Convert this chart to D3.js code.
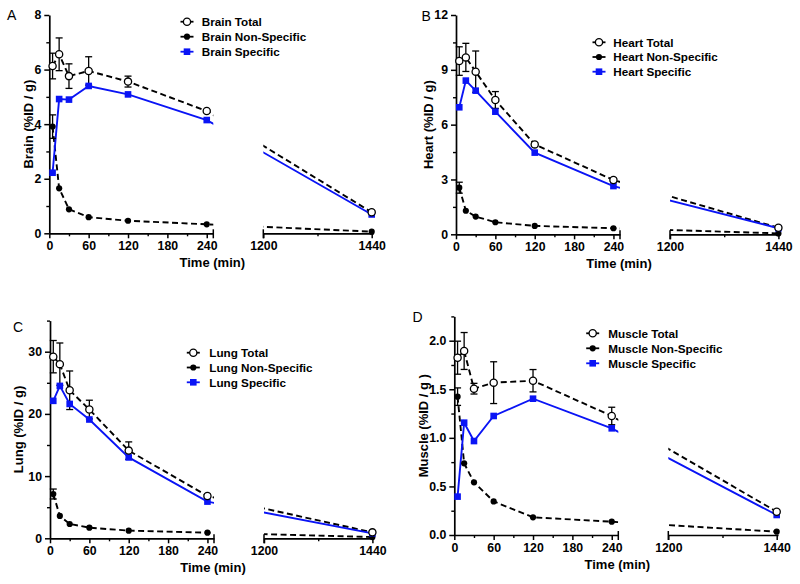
<!DOCTYPE html>
<html>
<head>
<meta charset="utf-8">
<script src="https://cdn.jsdelivr.net/npm/d3@7"></script>
<style>
body { margin: 0; background: #fff; }
svg { display: block; font-family: "Liberation Sans", Arial, sans-serif; }
</style>
</head>
<body>
<svg width="800" height="584"></svg>
<script>
// sampling times (min)
const times = [5, 15, 30, 60, 120, 240, 1440];

const brainTotal = [6.13, 6.56, 5.76, 5.95, 5.56, 4.48, 0.77];
const brainTotalErr = [0.47, 0.6, 0.45, 0.52, 0.2, 0.05, 0];
const brainNonSpec = [3.91, 1.65, 0.88, 0.59, 0.46, 0.33, 0.06];
const brainNonSpecErr = [0.43, 0, 0, 0, 0, 0, 0];
const brainSpec = [2.22, 4.92, 4.90, 5.40, 5.09, 4.15, 0.69];

const heartTotal = [9.48, 9.68, 8.90, 7.35, 4.92, 2.97, 0.36];
const heartTotalErr = [0.78, 0.77, 1.13, 0.46, 0.1, 0.1, 0];
const heartNonSpec = [2.55, 1.29, 0.97, 0.66, 0.46, 0.33, 0.05];
const heartNonSpecErr = [0.3, 0, 0, 0, 0, 0, 0];
const heartSpec = [6.95, 8.41, 7.86, 6.71, 4.47, 2.64, 0.33];

const lungTotal = [29.2, 28.0, 23.8, 20.7, 14.1, 6.8, 0.96];
const lungTotalErr = [2.6, 3.4, 3.1, 1.5, 1.4, 0.3, 0];
const lungNonSpec = [7.12, 3.59, 2.30, 1.71, 1.23, 0.91, 0.2];
const lungNonSpecErr = [0.8, 0, 0, 0, 0, 0, 0];
const lungSpec = [22.1, 24.5, 21.6, 19.1, 13.0, 5.9, 0.8];

const muscleTotal = [1.825, 1.894, 1.506, 1.568, 1.588, 1.225, 0.24];
const muscleTotalErr = [0.17, 0.19, 0.055, 0.215, 0.115, 0.09, 0];
const muscleNonSpec = [1.424, 0.738, 0.542, 0.346, 0.182, 0.137, 0.034];
const muscleNonSpecErr = [0.09, 0, 0, 0, 0, 0, 0];
const muscleSpec = [0.395, 1.156, 0.967, 1.225, 1.403, 1.098, 0.206];

// axis ticks
const xTicks1 = [0, 60, 120, 180, 240];
const xMinor1 = [30, 90, 150, 210];
const xTicks2 = [1200, 1440];
const xMinor2 = [1320];
const brainTicks = [0, 2, 4, 6, 8];
const brainMinor = [1, 3, 5, 7];
const heartTicks = [0, 3, 6, 9, 12];
const heartMinor = [1.5, 4.5, 7.5, 10.5];
const lungTicks = [0, 10, 20, 30];
const lungMinor = [5, 15, 25, 35];
const muscleTicks = [0, 0.5, 1.0, 1.5, 2.0];
const muscleMinor = [0.25, 0.75, 1.25, 1.75, 2.25];

const panels = [
	{ letter: 'A', organ: 'Brain', yLabel: 'Brain (%ID / g)', total: brainTotal, totalErr: brainTotalErr,
	  nonSpec: brainNonSpec, nonSpecErr: brainNonSpecErr, spec: brainSpec,
	  yMax: 8, yTicks: brainTicks, yMinor: brainMinor, fmt: 'd',
	  x0: 49.3, yTop: 15, yBottom: 233.3, titleDx: -21, letterX: 7, letterY: 19.5,
	  legX: 187, legY: 21.7, legTextX: 201.7, legStep: 15 },
	{ letter: 'B', organ: 'Heart', yLabel: 'Heart (%ID / g)', total: heartTotal, totalErr: heartTotalErr,
	  nonSpec: heartNonSpec, nonSpecErr: heartNonSpecErr, spec: heartSpec,
	  yMax: 12, yTicks: heartTicks, yMinor: heartMinor, fmt: 'd',
	  x0: 456, yTop: 15, yBottom: 234.3, titleDx: -28, letterX: 421.5, letterY: 20.7,
	  legX: 599, legY: 42.3, legTextX: 613.3, legStep: 14.7 },
	{ letter: 'C', organ: 'Lung', yLabel: 'Lung (%ID / g)', total: lungTotal, totalErr: lungTotalErr,
	  nonSpec: lungNonSpec, nonSpecErr: lungNonSpecErr, spec: lungSpec,
	  yMax: 35, yTicks: lungTicks, yMinor: lungMinor, fmt: 'd',
	  x0: 50, yTop: 320.6, yBottom: 538.3, titleDx: -31.5, letterX: 13, letterY: 331.7,
	  legX: 193.3, legY: 352.7, legTextX: 209.3, legStep: 14.8 },
	{ letter: 'D', organ: 'Muscle', yLabel: 'Muscle (%ID / g )', total: muscleTotal, totalErr: muscleTotalErr,
	  nonSpec: muscleNonSpec, nonSpecErr: muscleNonSpecErr, spec: muscleSpec,
	  yMax: 2.25, yTicks: muscleTicks, yMinor: muscleMinor, fmt: '.1f',
	  x0: 454.3, yTop: 316.4, yBottom: 535, titleDx: -31, letterX: 412.5, letterY: 321.7,
	  legX: 592.7, legY: 333.3, legTextX: 608.3, legStep: 15 }
];

const blue = '#0a14f5';

var svg = d3.select('svg');
var defs = svg.append('defs');

panels.forEach(function(p, i) { drawPanel(p, i); });

function styleAxis(a) {
	a.attr('font-size', null).attr('font-family', null);
	a.select('.domain').attr('stroke', '#000').attr('stroke-width', 1.7);
	a.selectAll('.tick line').attr('stroke', '#000').attr('stroke-width', 1.5);
	a.selectAll('.tick text')
		.attr('fill', '#000')
		.style('font-size', '12.3px')
		.style('font-weight', 'bold');
}

function minorAxis(a) {
	a.select('.domain').remove();
	a.selectAll('.tick line').attr('stroke', '#000').attr('stroke-width', 1.4);
}

function drawPanel(p, i) {
	var g = svg.append('g');

	var x1 = d3.scaleLinear().domain([0, 250]).range([p.x0, p.x0 + 164]);
	var x2 = d3.scaleLinear().domain([1200, 1440]).range([p.x0 + 214, p.x0 + 322.4]);
	var x = function(t) { return t <= 250 ? x1(t) : x2(t); };
	var y = d3.scaleLinear().domain([0, p.yMax]).range([p.yBottom, p.yTop]);
	var segEnd = x2(1443);

	// clip lines to the two axis segments
	var clip = defs.append('clipPath').attr('id', 'clip' + i);
	clip.append('rect')
		.attr('x', p.x0 - 10).attr('y', p.yTop - 30)
		.attr('width', x1(250) - p.x0 + 10).attr('height', p.yBottom - p.yTop + 40);
	clip.append('rect')
		.attr('x', x2(1200)).attr('y', p.yTop - 30)
		.attr('width', segEnd - x2(1200) + 6).attr('height', p.yBottom - p.yTop + 40);

	// y axis
	g.append('g').attr('transform', 'translate(' + p.x0 + ',0)')
		.call(d3.axisLeft(y).tickValues(p.yTicks).tickSize(5).tickPadding(3).tickSizeOuter(0)
			.tickFormat(d3.format(p.fmt)))
		.call(styleAxis);
	g.append('g').attr('transform', 'translate(' + p.x0 + ',0)')
		.call(d3.axisLeft(y).tickValues(p.yMinor).tickSize(3).tickFormat(''))
		.call(minorAxis);

	// x axis, broken in two
	g.append('g').attr('transform', 'translate(0,' + p.yBottom + ')')
		.call(d3.axisBottom(x1).tickValues(xTicks1).tickSize(5).tickPadding(3).tickSizeOuter(0)
			.tickFormat(d3.format('d')))
		.call(styleAxis);
	g.append('g').attr('transform', 'translate(0,' + p.yBottom + ')')
		.call(d3.axisBottom(x1).tickValues(xMinor1).tickSize(3).tickFormat(''))
		.call(minorAxis);
	var ax2 = d3.scaleLinear().domain([1200, 1443]).range([x2(1200), segEnd]);
	g.append('g').attr('transform', 'translate(0,' + p.yBottom + ')')
		.call(d3.axisBottom(ax2).tickValues(xTicks2).tickSize(5).tickPadding(3).tickSizeOuter(0)
			.tickFormat(d3.format('d')))
		.call(styleAxis);
	g.append('g').attr('transform', 'translate(0,' + p.yBottom + ')')
		.call(d3.axisBottom(ax2).tickValues(xMinor2).tickSize(3).tickFormat(''))
		.call(minorAxis);

	[x1(250), x2(1200)].forEach(function(bx) {
		g.append('line')
			.attr('x1', bx).attr('x2', bx)
			.attr('y1', p.yBottom - 4).attr('y2', p.yBottom + 5)
			.attr('stroke', '#000').attr('stroke-width', 1.5);
	});

	// titles
	g.append('text')
		.attr('x', p.x0 + 163).attr('y', p.yBottom + 33.5)
		.attr('text-anchor', 'middle')
		.style('font-size', '13px').style('font-weight', 'bold')
		.text('Time (min)');
	g.append('text')
		.attr('transform', 'translate(' + (p.x0 + p.titleDx) + ',' + ((p.yTop + p.yBottom) / 2) + ') rotate(-90)')
		.attr('text-anchor', 'middle')
		.attr('dy', '0.35em')
		.style('font-size', '13px').style('font-weight', 'bold')
		.text(p.yLabel);
	g.append('text')
		.attr('x', p.letterX).attr('y', p.letterY)
		.style('font-size', '14px')
		.text(p.letter);

	var series = [
		{ name: p.organ + ' Total', values: p.total, err: p.totalErr, kind: 'open' },
		{ name: p.organ + ' Non-Specific', values: p.nonSpec, err: p.nonSpecErr, kind: 'dot' },
		{ name: p.organ + ' Specific', values: p.spec, err: null, kind: 'square' }
	];

	var line = d3.line()
		.x(function(d) { return x(d.t); })
		.y(function(d) { return y(d.v); });

	var toPts = function(s) {
		return s.values.map(function(v, j) { return { t: times[j], v: v, e: s.err ? s.err[j] : 0 }; });
	};

	var lines = g.append('g').attr('clip-path', 'url(#clip' + i + ')');
	series.forEach(function(s) {
		lines.append('path')
			.datum(toPts(s))
			.attr('d', line)
			.attr('fill', 'none')
			.attr('stroke', s.kind === 'square' ? blue : '#000')
			.attr('stroke-width', 1.9)
			.attr('stroke-dasharray', s.kind === 'square' ? null : '6,3.5');
	});

	// error bars
	series.forEach(function(s) {
		if (!s.err) return;
		var pts = toPts(s).filter(function(d) { return d.e > 0; });
		var eb = g.append('g').attr('stroke', '#000').attr('stroke-width', 1.3);
		eb.selectAll('line.v').data(pts).enter().append('line')
			.attr('x1', function(d) { return x(d.t); })
			.attr('x2', function(d) { return x(d.t); })
			.attr('y1', function(d) { return y(d.v - d.e); })
			.attr('y2', function(d) { return y(d.v + d.e); });
		[1, -1].forEach(function(sign) {
			eb.selectAll('line.c' + sign).data(pts).enter().append('line')
				.attr('x1', function(d) { return x(d.t) - 3.5; })
				.attr('x2', function(d) { return x(d.t) + 3.5; })
				.attr('y1', function(d) { return y(d.v + sign * d.e); })
				.attr('y2', function(d) { return y(d.v + sign * d.e); });
		});
	});

	// markers
	var order = [series[1], series[2], series[0]];
	order.forEach(function(s) {
		var pts = toPts(s);
		drawMarkers(g, pts.map(function(d) { return [x(d.t), y(d.v)]; }), s.kind);
	});

	// legend
	series.forEach(function(s, k) {
		var ly = p.legY + k * p.legStep;
		g.append('line')
			.attr('x1', p.legX - 6.5).attr('x2', p.legX + 6.5)
			.attr('y1', ly).attr('y2', ly)
			.attr('stroke', s.kind === 'square' ? blue : '#000')
			.attr('stroke-width', 1.8);
		drawMarkers(g, [[p.legX, ly]], s.kind);
		g.append('text')
			.attr('x', p.legTextX).attr('y', ly)
			.attr('dy', '0.36em')
			.style('font-size', '11.7px').style('font-weight', 'bold')
			.text(s.name);
	});
}

function drawMarkers(g, pts, kind) {
	if (kind === 'square') {
		g.selectAll(null).data(pts).enter().append('rect')
			.attr('x', function(d) { return d[0] - 3.3; })
			.attr('y', function(d) { return d[1] - 3.3; })
			.attr('width', 6.6).attr('height', 6.6)
			.attr('fill', blue);
	} else if (kind === 'dot') {
		g.selectAll(null).data(pts).enter().append('circle')
			.attr('cx', function(d) { return d[0]; })
			.attr('cy', function(d) { return d[1]; })
			.attr('r', 3.1)
			.attr('fill', '#000');
	} else {
		g.selectAll(null).data(pts).enter().append('circle')
			.attr('cx', function(d) { return d[0]; })
			.attr('cy', function(d) { return d[1]; })
			.attr('r', 3.6)
			.attr('fill', '#fff')
			.attr('stroke', '#000')
			.attr('stroke-width', 1.3);
	}
}
</script>
</body>
</html>
